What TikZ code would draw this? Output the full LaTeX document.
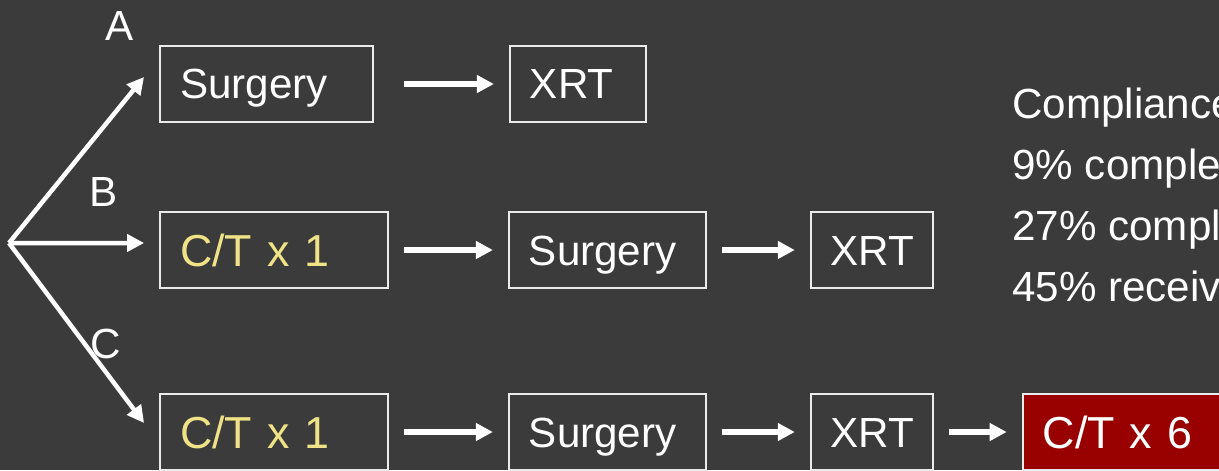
\documentclass[tikz,border=0pt]{standalone}
\usepackage{fontspec}
\setmainfont{Liberation Sans}
\usetikzlibrary{arrows.meta,positioning}
\definecolor{slidebg}{RGB}{59,59,59}
\definecolor{ctyellow}{RGB}{240,226,134}
\definecolor{ctred}{RGB}{153,0,0}
\definecolor{boxline}{RGB}{235,235,235}

\begin{document}
\begin{tikzpicture}[x=0.02cm,y=-0.02cm,
    box/.style={draw=boxline, line width=1.1pt, minimum height=1.52cm,
      inner xsep=0.4cm, inner ysep=0pt, align=left, text=white,
      text height=0.6cm, text depth=0pt, font=\fontsize{24}{29}\selectfont},
    ctbox/.style={box, text=ctyellow, text height=0.66cm,
      font=\fontsize{25.5}{31}\selectfont},
    arm/.style={white, line width=0.12cm, -{Triangle[length=0.34cm,width=0.34cm]},
      shorten <=0.3cm, shorten >=0.3cm},
    fan/.style={white, line width=0.09cm, -{Triangle[length=0.34cm,width=0.34cm]}},
    armlabel/.style={text=white, inner sep=0pt, font=\fontsize{24}{29}\selectfont}]
          \fill[slidebg] (0,0) rectangle (1219,470);
          \useasboundingbox (0,0) rectangle (1219,470);
          % arm A
          \node[box, text width=3.46cm] at (266.5,84) (surgA) {Surgery};
          \node[box, text width=1.92cm, right=2.7cm of surgA] (xrtA) {XRT};
          % arm B
          \node[ctbox, text width=3.76cm] at (274,250) (ctB) {C/T x 1};
          \node[box, text width=3.14cm, right=2.38cm of ctB] (surgB) {Surgery};
          \node[box, text width=1.64cm, right=2.06cm of surgB] (xrtB) {XRT};
          % arm C
          \node[ctbox, text width=3.76cm] at (274,432) (ctC) {C/T x 1};
          \node[box, text width=3.14cm, right=2.38cm of ctC] (surgC) {Surgery};
          \node[box, text width=1.64cm, right=2.06cm of surgC] (xrtC) {XRT};
          \node[ctbox, text=white, fill=ctred, text width=3.14cm, right=1.76cm of xrtC] (ctsix) {C/T~x~6};
          % randomisation
          \coordinate (fork) at (9,243);
          \node[armlabel] at (120,26) (labA) {A};
          \node[armlabel] at (104,192) (labB) {B};
          \node[armlabel] at (106,344) (labC) {C};
          \draw[fan] (fork) -- ([xshift=-0.3cm,yshift=0.14cm]surgA.west);
          \draw[fan] (fork) -- ([xshift=-0.3cm,yshift=0.14cm]ctB.west);
          \draw[fan] (fork) -- ([xshift=-0.3cm,yshift=0.18cm]ctC.west);
          \draw[arm, shorten <=0.6cm] (surgA) -- (xrtA);
          \draw[arm] (ctB) -- (surgB);
          \draw[arm] (surgB) -- (xrtB);
          \draw[arm] (ctC) -- (surgC);
          \draw[arm] (surgC) -- (xrtC);
          \draw[arm] (xrtC) -- (ctsix);
          % compliance
          \node[anchor=north west, inner sep=0pt, align=left, text=white,
            font=\fontsize{24}{34.7}\selectfont] at (1012,88) (comply)
            {Compliance\\9\% comple\\27\% compl\\45\% receiv};
        \end{tikzpicture}
\end{document}
